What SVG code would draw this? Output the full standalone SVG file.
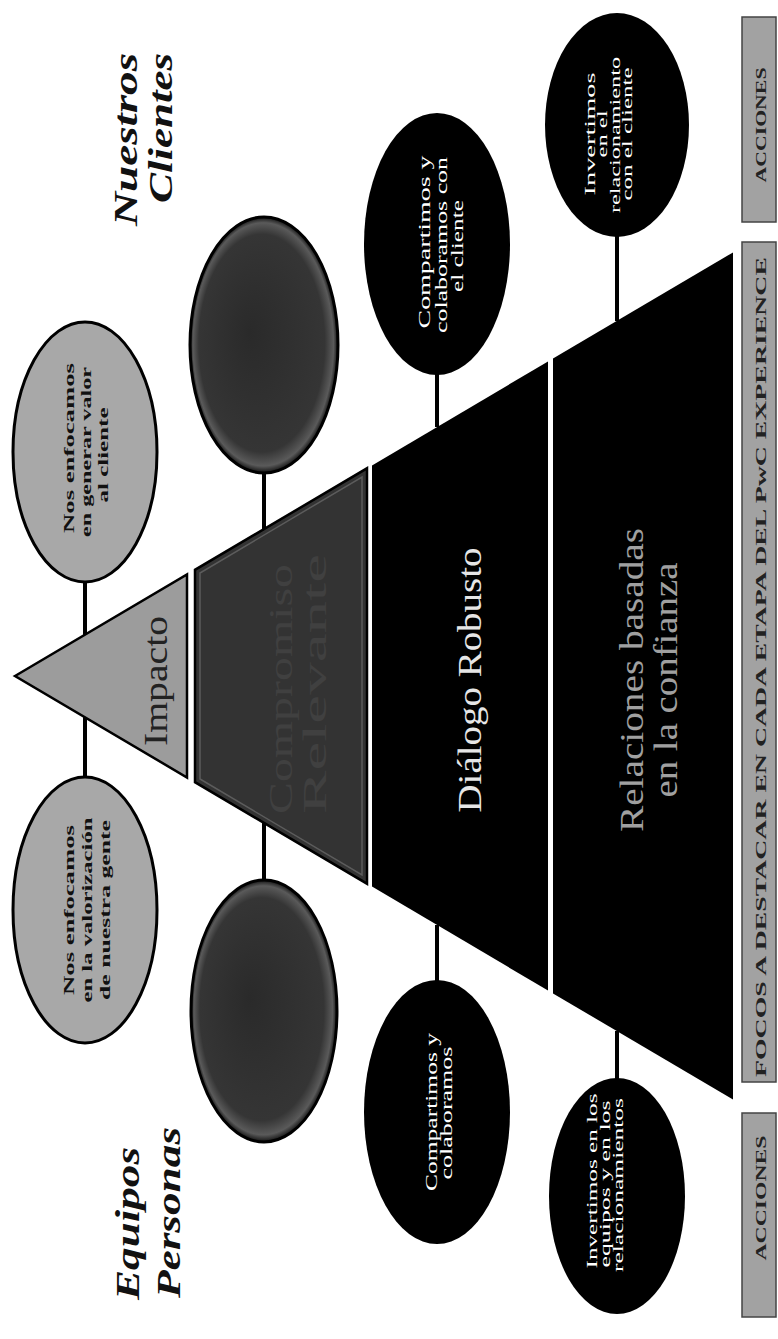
<svg xmlns="http://www.w3.org/2000/svg" width="778" height="1339" viewBox="0 0 778 1339">
<defs>
<style>
.title{font-family:"Liberation Serif","Times New Roman",serif;font-weight:bold;font-style:italic;font-size:34px;fill:#111}
.eb{font-family:"Liberation Serif","Times New Roman",serif;font-weight:bold;font-size:15px;fill:#111;text-anchor:middle}
.ew{font-family:"Liberation Serif","Times New Roman",serif;font-size:16px;fill:#fff;text-anchor:middle}
.ews{font-family:"Liberation Serif","Times New Roman",serif;font-size:14px;fill:#fff;text-anchor:middle}
.band{font-family:"Liberation Serif","Times New Roman",serif;font-size:33px;text-anchor:middle}
.bar{fill:#a2a2a2;stroke:#444;stroke-width:1.5}
.bt{font-family:"Liberation Serif","Times New Roman",serif;font-weight:bold;font-size:15px;fill:#222;text-anchor:middle}
.stem{stroke:#000;stroke-width:4;fill:none}
.light{fill:#a8a8a8;stroke:#000;stroke-width:3}
.dark{fill:url(#dg);stroke:#000;stroke-width:3}
.blk{fill:#000}
</style>
<radialGradient id="dg" cx="0.5" cy="0.5" r="0.5" fx="0.55" fy="0.4">
<stop offset="0" stop-color="#2a2a2a"/>
<stop offset="0.85" stop-color="#353535"/>
<stop offset="0.95" stop-color="#5a5a5a"/>
<stop offset="1" stop-color="#111"/>
</radialGradient>
</defs>
<rect width="778" height="1339" fill="#fff"/>
<g transform="translate(0,1339) rotate(-90)">
  <g id="connectors">
    <line class="stem" x1="704" y1="85" x2="758" y2="85"/>
    <line class="stem" x1="562" y1="85" x2="622" y2="85"/>
    <line class="stem" x1="810" y1="264" x2="867" y2="264"/>
    <line class="stem" x1="459" y1="264" x2="516" y2="264"/>
    <line class="stem" x1="912" y1="437" x2="965" y2="437"/>
    <line class="stem" x1="358" y1="437" x2="414" y2="437"/>
    <line class="stem" x1="1018" y1="617" x2="1103" y2="617"/>
    <line class="stem" x1="260" y1="617" x2="308" y2="617"/>
  </g>
  <g id="titulo-clientes">
    <text class="title" x="1286" y="137" text-anchor="end" textLength="173" lengthAdjust="spacingAndGlyphs">Nuestros</text>
    <text class="title" x="1286" y="172" text-anchor="end" textLength="150" lengthAdjust="spacingAndGlyphs">Clientes</text>
  </g>
  <g id="titulo-personas">
    <text class="title" x="39" y="139" textLength="153" lengthAdjust="spacingAndGlyphs">Equipos</text>
    <text class="title" x="41" y="180" textLength="171" lengthAdjust="spacingAndGlyphs">Personas</text>
  </g>
  <g id="impacto">
    <polygon points="663,15 764.5,187 561.5,187" fill="#9c9c9c" stroke="#000" stroke-width="2.5"/>
    <text class="band" x="658" y="167" font-size="27" fill="#222" textLength="130" lengthAdjust="spacingAndGlyphs">Impacto</text>
  </g>
  <g id="nivel2">
    <polygon points="556.8,195 769.2,195 870.7,367 455.3,367" fill="#333" stroke="#000" stroke-width="2.5"/>
    <polygon points="560,200 766,200 862,362 464,362" fill="none" stroke="#5c5c5c" stroke-width="1.5"/>
    <text class="band" x="650" y="292" fill="#404040" textLength="250" lengthAdjust="spacingAndGlyphs">Compromiso</text>
    <text class="band" x="655" y="326" fill="#404040" textLength="260" lengthAdjust="spacingAndGlyphs">Relevante</text>
  </g>
  <g id="dialogo">
    <polygon points="452.4,372 873.6,372 977.5,548 348.5,548" class="blk"/>
    <text class="band" x="659" y="481" fill="#e6e6e6" textLength="265" lengthAdjust="spacingAndGlyphs">Diálogo Robusto</text>
  </g>
  <g id="relaciones">
    <polygon points="345.6,553 980.4,553 1086.6,733 239.4,733" class="blk"/>
    <text class="band" x="659" y="643" fill="#a0a0a0" textLength="304" lengthAdjust="spacingAndGlyphs">Relaciones basadas</text>
    <text class="band" x="659" y="677" fill="#a0a0a0" textLength="235" lengthAdjust="spacingAndGlyphs">en la confianza</text>
  </g>
  <g id="e-valor-cliente">
    <ellipse cx="887" cy="85" rx="130" ry="72" class="light"/>
    <text class="eb" x="891" y="74" textLength="170" lengthAdjust="spacingAndGlyphs">Nos enfocamos</text>
    <text class="eb" x="887" y="91" textLength="170" lengthAdjust="spacingAndGlyphs">en generar valor</text>
    <text class="eb" x="884" y="108" textLength="95" lengthAdjust="spacingAndGlyphs">al cliente</text>
  </g>
  <g id="e-valor-gente">
    <ellipse cx="429" cy="85" rx="133" ry="72" class="light"/>
    <text class="eb" x="429" y="74" textLength="170" lengthAdjust="spacingAndGlyphs">Nos enfocamos</text>
    <text class="eb" x="429" y="92" textLength="185" lengthAdjust="spacingAndGlyphs">en la valorización</text>
    <text class="eb" x="429" y="110" textLength="180" lengthAdjust="spacingAndGlyphs">de nuestra gente</text>
  </g>
  <g id="e-nivel2-cliente">
    <ellipse cx="994" cy="264" rx="128" ry="74" class="dark"/>
  </g>
  <g id="e-nivel2-personas">
    <ellipse cx="328" cy="264" rx="131" ry="73" class="dark"/>
  </g>
  <g id="e-comparte-cliente">
    <ellipse cx="1095" cy="437" rx="131" ry="73" class="blk"/>
    <text class="ew" x="1097" y="430" textLength="173" lengthAdjust="spacingAndGlyphs">Compartimos y</text>
    <text class="ew" x="1094" y="447" textLength="176" lengthAdjust="spacingAndGlyphs">colaboramos con</text>
    <text class="ew" x="1093" y="463" textLength="92" lengthAdjust="spacingAndGlyphs">el cliente</text>
  </g>
  <g id="e-comparte-personas">
    <ellipse cx="227" cy="437" rx="132" ry="73" class="blk"/>
    <text class="ew" x="227" y="437" textLength="158" lengthAdjust="spacingAndGlyphs">Compartimos y</text>
    <text class="ew" x="226" y="452" textLength="133" lengthAdjust="spacingAndGlyphs">colaboramos</text>
  </g>
  <g id="e-invierte-cliente">
    <ellipse cx="1214" cy="617" rx="112" ry="72" class="blk"/>
    <text class="ews" x="1205" y="595" textLength="123" lengthAdjust="spacingAndGlyphs">Invertimos</text>
    <text class="ews" x="1205" y="607" textLength="47" lengthAdjust="spacingAndGlyphs">en el</text>
    <text class="ews" x="1204" y="620" textLength="156" lengthAdjust="spacingAndGlyphs">relacionamiento</text>
    <text class="ews" x="1205" y="632" textLength="133" lengthAdjust="spacingAndGlyphs">con el cliente</text>
  </g>
  <g id="e-invierte-personas">
    <ellipse cx="143" cy="617" rx="118" ry="68" class="blk"/>
    <text class="ews" x="158" y="597" textLength="175" lengthAdjust="spacingAndGlyphs">Invertimos en los</text>
    <text class="ews" x="155" y="610" textLength="167" lengthAdjust="spacingAndGlyphs">equipos y en los</text>
    <text class="ews" x="154" y="623" textLength="174" lengthAdjust="spacingAndGlyphs">relacionamientos</text>
  </g>
  <g id="acciones-clientes">
    <rect class="bar" x="1117" y="742" width="205" height="34"/>
    <text class="bt" x="1214" y="766" textLength="115" lengthAdjust="spacingAndGlyphs">ACCIONES</text>
  </g>
  <g id="focos">
    <rect class="bar" x="257" y="742" width="840" height="34"/>
    <text class="bt" x="672" y="766" textLength="820" lengthAdjust="spacingAndGlyphs">FOCOS A DESTACAR EN CADA ETAPA DEL PwC EXPERIENCE</text>
  </g>
  <g id="acciones-personas">
    <rect class="bar" x="22" y="742" width="204" height="34"/>
    <text class="bt" x="141" y="766" textLength="125" lengthAdjust="spacingAndGlyphs">ACCIONES</text>
  </g>
</g>
</svg>
